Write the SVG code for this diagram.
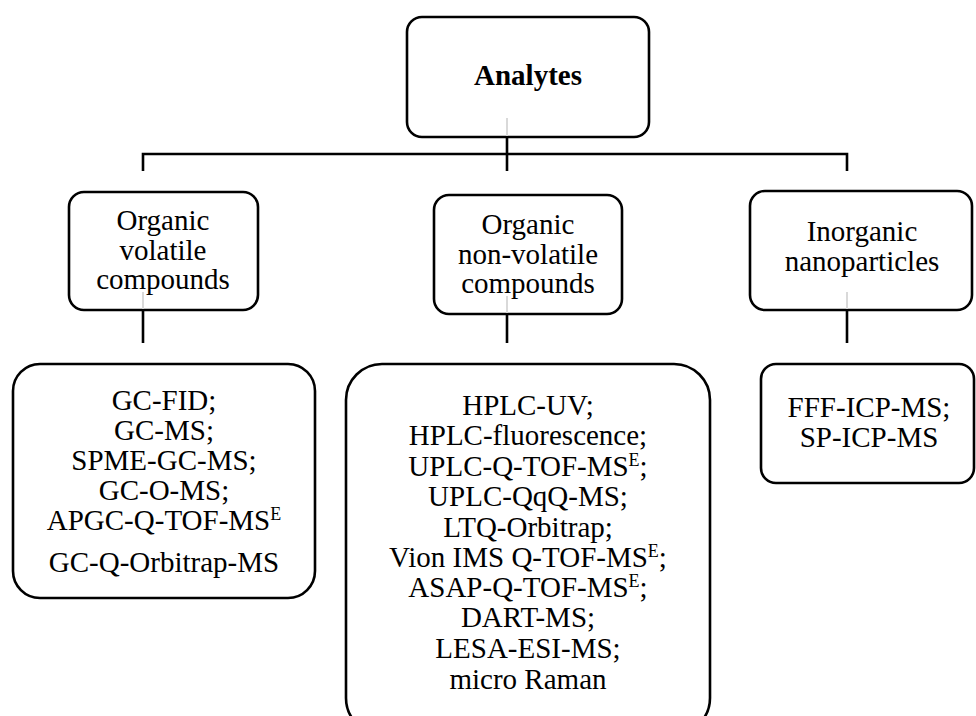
<svg xmlns="http://www.w3.org/2000/svg" width="976" height="716" viewBox="0 0 976 716">
<style>
.box{fill:#fff;stroke:#000;stroke-width:2.6}
text{font-family:'Liberation Serif','Times New Roman',Tinos,'DejaVu Serif',serif;font-size:29px;fill:#000;text-anchor:middle}
.b{font-weight:bold}
.sup{font-size:18px}
.ln{stroke:#000;stroke-width:2.6;fill:none}
.gl{stroke:#d9d9d9;stroke-width:2;fill:none}
</style>
<rect width="976" height="716" fill="#fff"/>
<g id="connectors">
<line class="ln" x1="507" y1="137" x2="507" y2="171"/>
<polyline class="ln" points="143,171 143,154 847,154 847,171"/>
<line class="ln" x1="143" y1="310" x2="143" y2="343"/>
<line class="ln" x1="507" y1="314" x2="507" y2="343"/>
<line class="ln" x1="847" y1="310" x2="847" y2="343"/>
</g>
<g id="analytes">
<rect class="box" x="407" y="17" width="242" height="120" rx="15"/>
<text class="b" x="528" y="85" font-family="Liberation Serif, serif">Analytes</text>
<line class="gl" x1="507" y1="118" x2="507" y2="136"/>
</g>
<g id="organic-volatile" font-family="Liberation Serif, serif">
<rect class="box" x="69" y="192" width="189" height="118" rx="15"/>
<text x="163" y="230">Organic</text>
<text x="163" y="260">volatile</text>
<text x="163" y="289">compounds</text>
<line class="gl" x1="143" y1="292" x2="143" y2="309"/>
</g>
<g id="organic-nonvolatile">
<rect class="box" x="434" y="195" width="188" height="119" rx="15"/>
<text x="528" y="234">Organic</text>
<text x="528" y="264">non-volatile</text>
<text x="528" y="293">compounds</text>
<line class="gl" x1="507" y1="296" x2="507" y2="313"/>
</g>
<g id="inorganic">
<rect class="box" x="750" y="191" width="222" height="119" rx="15"/>
<text x="862" y="241">Inorganic</text>
<text x="862" y="271">nanoparticles</text>
<line class="gl" x1="847" y1="292" x2="847" y2="309"/>
</g>
<g id="methods-volatile">
<rect class="box" x="13" y="364" width="302" height="234" rx="27"/>
<text x="164" y="410">GC-FID;</text>
<text x="164" y="440">GC-MS;</text>
<text x="164" y="470">SPME-GC-MS;</text>
<text x="164" y="500">GC-O-MS;</text>
<text x="164" y="530">APGC-Q-TOF-MS<tspan class="sup" dy="-10">E</tspan></text>
<text x="164" y="572">GC-Q-Orbitrap-MS</text>
</g>
<g id="methods-nonvolatile">
<rect class="box" x="346" y="364" width="364" height="370" rx="36"/>
<text x="528" y="415">HPLC-UV;</text>
<text x="528" y="445">HPLC-fluorescence;</text>
<text x="528" y="476">UPLC-Q-TOF-MS<tspan class="sup" dy="-10">E</tspan><tspan dy="10">;</tspan></text>
<text x="528" y="506">UPLC-QqQ-MS;</text>
<text x="528" y="537">LTQ-Orbitrap;</text>
<text x="528" y="567">Vion IMS Q-TOF-MS<tspan class="sup" dy="-10">E</tspan><tspan dy="10">;</tspan></text>
<text x="528" y="597">ASAP-Q-TOF-MS<tspan class="sup" dy="-10">E</tspan><tspan dy="10">;</tspan></text>
<text x="528" y="627">DART-MS;</text>
<text x="528" y="658">LESA-ESI-MS;</text>
<text x="528" y="689">micro Raman</text>
</g>
<g id="methods-inorganic">
<rect class="box" x="761" y="364" width="213" height="119" rx="15"/>
<text x="869" y="417">FFF-ICP-MS;</text>
<text x="869" y="447">SP-ICP-MS</text>
</g>
</svg>
